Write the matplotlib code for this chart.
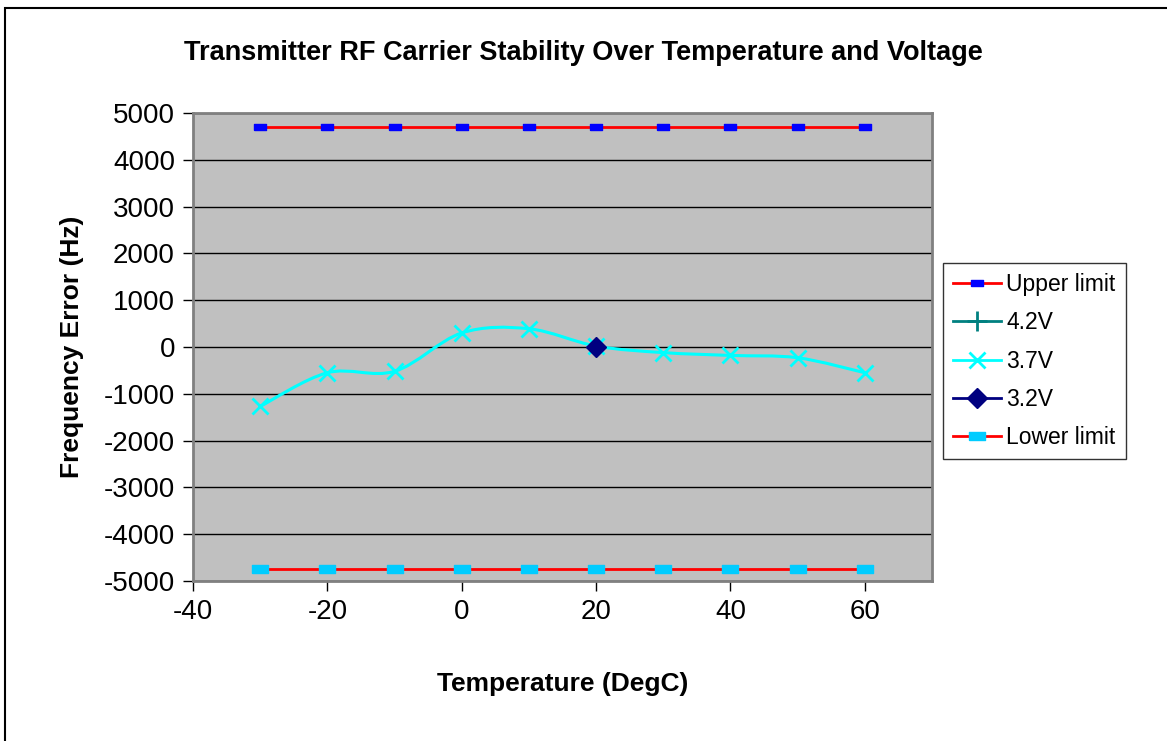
import matplotlib.pyplot as plt
import numpy as np
from matplotlib.lines import Line2D
from matplotlib.patches import PathPatch
from matplotlib.path import Path

plt.rcParams["font.family"] = ["Liberation Sans", "DejaVu Sans"]
plt.rcParams["axes.unicode_minus"] = False

temps = [-30, -20, -10, 0, 10, 20, 30, 40, 50, 60]
upper_limit = [4700] * 10
lower_limit = [-4750] * 10
v37 = [-1270, -550, -520, 300, 390, 20, -120, -180, -230, -550]
v32_temp = [20]
v32 = [10]
v42_temp = []
v42 = []

RED = "#FF0000"
BLUE = "#0000FF"
SKY = "#00CCFF"
TEAL = "#008080"
CYAN = "#00FFFF"
NAVY = "#000080"

rect = [(-1.0, -0.55), (1.0, -0.55), (1.0, 0.55), (-1.0, 0.55), (-1.0, -0.55)]


def smooth_path(xs, ys):
    # Excel-style smoothed line: Catmull-Rom segments as cubic Beziers
    p = np.column_stack([xs, ys]).astype(float)
    verts = [p[0]]
    codes = [Path.MOVETO]
    n = len(p)
    for i in range(n - 1):
        p0 = p[i - 1] if i > 0 else p[i]
        p3 = p[i + 2] if i + 2 < n else p[i + 1]
        c1 = p[i] + (p[i + 1] - p0) / 6.0
        c2 = p[i + 1] - (p3 - p[i]) / 6.0
        verts += [c1, c2, p[i + 1]]
        codes += [Path.CURVE4] * 3
    return Path(verts, codes)


fig = plt.figure(figsize=(11.67, 7.41), dpi=100)
ax = fig.add_axes([193 / 1167, 1 - 581 / 741, (932 - 193) / 1167, (581 - 113) / 741])
ax.set_facecolor("#C0C0C0")

ax.set_xlim(-40, 70)
ax.set_ylim(-5000, 5000)
ax.set_xticks([-40, -20, 0, 20, 40, 60])
ax.set_yticks(np.arange(-5000, 5001, 1000))
ax.yaxis.grid(True, color="black", lw=1.0)
ax.set_axisbelow(True)
for s in ax.spines.values():
    s.set_color("#808080")
    s.set_linewidth(2.0)
ax.tick_params(axis="both", direction="out", length=7, width=1, color="black",
               labelsize=20, pad=6)

ax.plot(temps, upper_limit, color=RED, lw=2, marker=rect, ms=9, mfc=BLUE, mec=BLUE, zorder=3)
ax.plot(v42_temp, v42, color=TEAL, lw=2, marker="+", ms=12, mew=2, zorder=3)
ax.add_patch(PathPatch(smooth_path(temps, v37), fill=False, edgecolor=CYAN, lw=2.2, zorder=3))
ax.plot(temps, v37, ls="none", marker="x", ms=12, mew=2, color=CYAN, zorder=4)
ax.plot(v32_temp, v32, ls="none", marker="D", ms=10, color=NAVY, zorder=5)
ax.plot(temps, lower_limit, color=RED, lw=2, marker=rect, ms=11, mfc=SKY, mec=SKY, zorder=3)

ax.set_xlabel("Temperature (DegC)", fontsize=19, fontweight="bold", labelpad=34)
ax.set_ylabel("Frequency Error (Hz)", fontsize=19, fontweight="bold", labelpad=14)
fig.text(583 / 1167, 1 - 53 / 741, "Transmitter RF Carrier Stability Over Temperature and Voltage",
         ha="center", va="center", fontsize=19.5, fontweight="bold")

handles = [
    Line2D([], [], color=RED, lw=2, marker=rect, ms=9, mfc=BLUE, mec=BLUE),
    Line2D([], [], color=TEAL, lw=2, marker="+", ms=14, mew=2),
    Line2D([], [], color=CYAN, lw=2, marker="x", ms=12, mew=2),
    Line2D([], [], color=NAVY, lw=2, marker="D", ms=10),
    Line2D([], [], color=RED, lw=2, marker=rect, ms=11, mfc=SKY, mec=SKY),
]
labels = ["Upper limit", "4.2V", "3.7V", "3.2V", "Lower limit"]
leg = fig.legend(handles, labels, loc="upper left", bbox_to_anchor=(943 / 1167, 1 - 263 / 741),
                 fontsize=16.5, frameon=True, fancybox=False, handlelength=2.1,
                 handletextpad=0.2, borderaxespad=0, borderpad=0.45, labelspacing=0.66)
leg.get_frame().set_edgecolor("black")
leg.get_frame().set_linewidth(1.0)

# outer chart border (right and bottom fall outside the image)
fig.add_artist(plt.Rectangle((5 / 1167, -0.1), 1.2, 1 - 8 / 741 + 0.1, transform=fig.transFigure,
                             fill=False, edgecolor="black", lw=1.5))

fig.savefig("out.png", dpi=100)
